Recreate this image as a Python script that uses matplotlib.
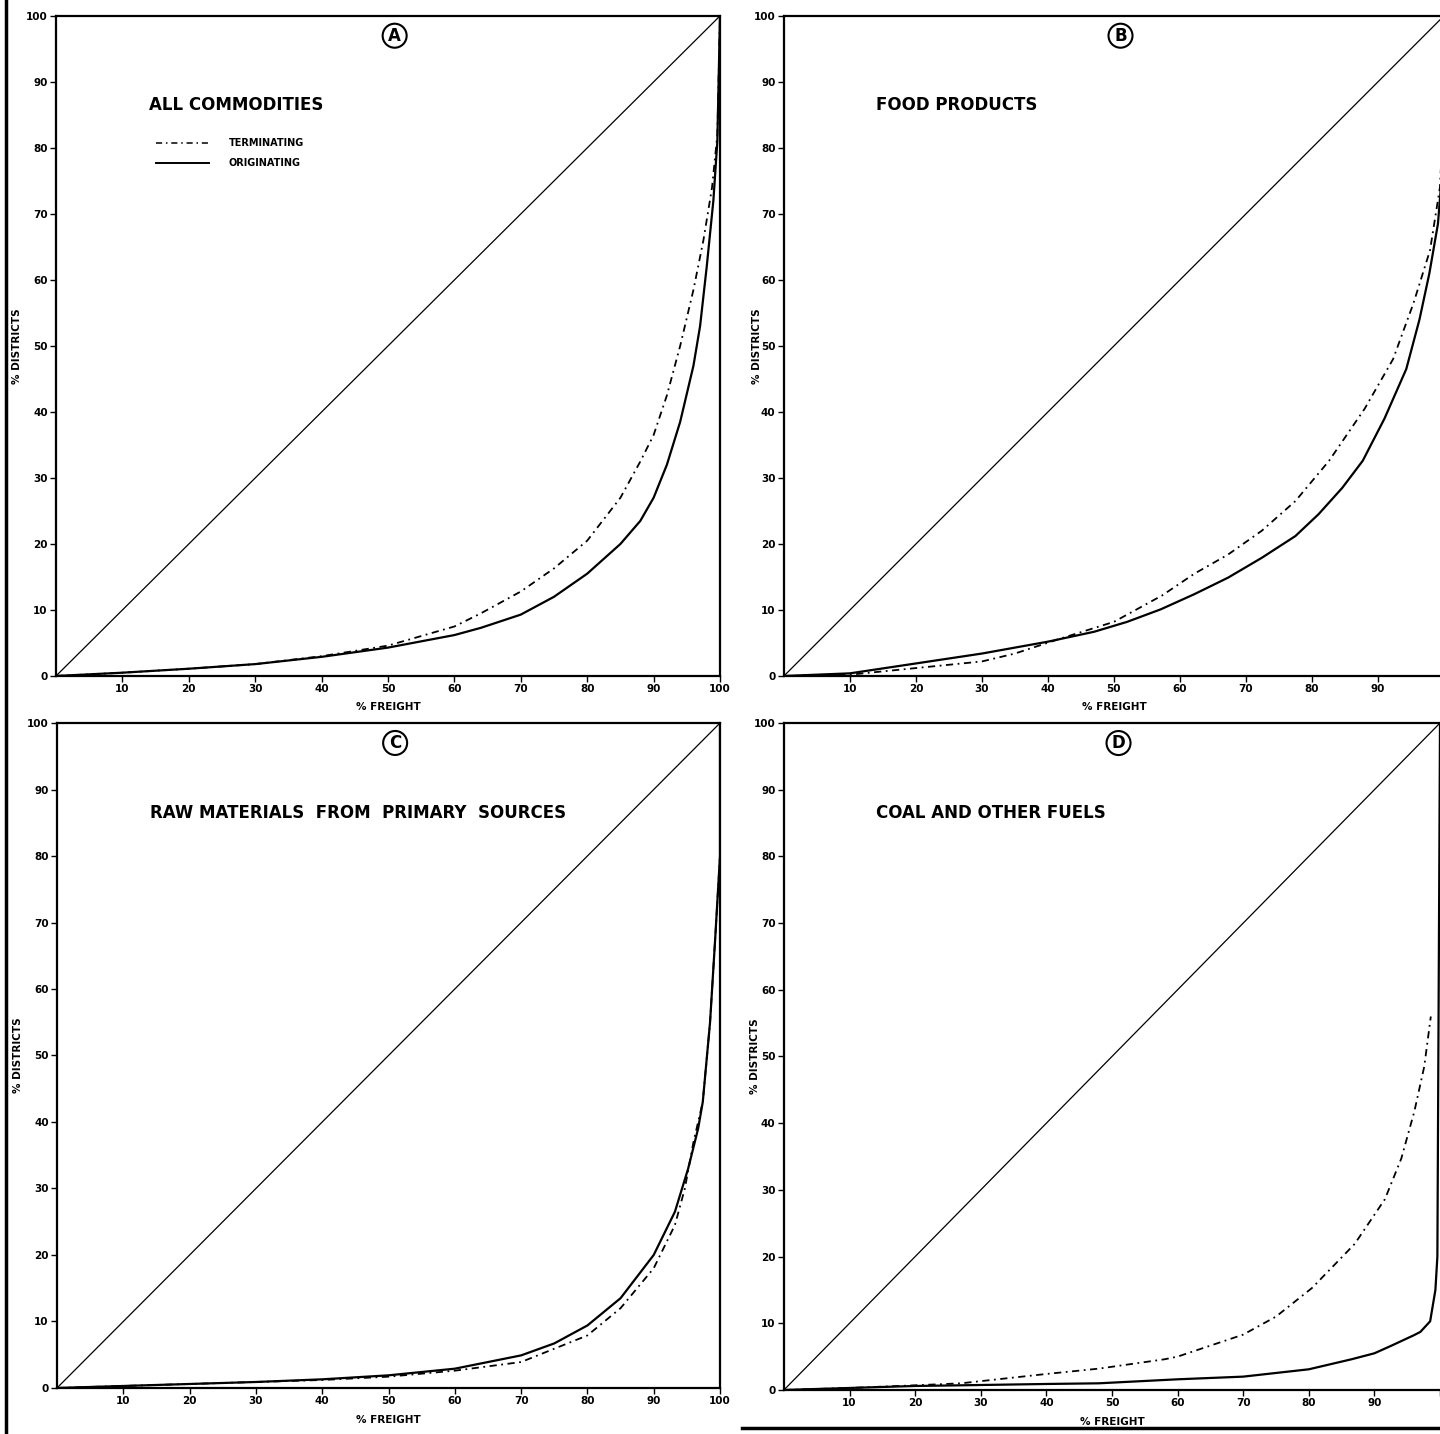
import matplotlib.pyplot as plt
from matplotlib.lines import Line2D

# ---------- data ----------
ticks_y = [0, 10, 20, 30, 40, 50, 60, 70, 80, 90, 100]
ticks_x = [10, 20, 30, 40, 50, 60, 70, 80, 90, 100]

# (A) all commodities
a_orig_x = [0, 10, 20, 30, 40, 50, 60, 64, 70, 75, 80, 85, 88, 90, 92, 94, 96, 97, 98, 99, 99.6, 100]
a_orig_y = [0, 0.5, 1.1, 1.8, 2.9, 4.3, 6.2, 7.3, 9.3, 12, 15.5, 20, 23.5, 27, 32, 38.5, 47, 53, 62, 72, 81, 100]
a_term_x = [0, 10, 20, 30, 40, 50, 60, 64, 70, 75, 80, 85, 88, 90, 92, 94, 96, 97.5, 98.8, 99.6, 100]
a_term_y = [0, 0.5, 1.1, 1.8, 3.0, 4.6, 7.5, 9.5, 12.8, 16.3, 20.5, 27, 32.5, 36.5, 42.5, 50, 58.5, 66, 74, 82, 100]

# (B) food products
b_orig_x = [0, 10, 20, 30, 40, 47, 52, 57.1, 62.2, 67.3, 72.4, 77.5, 81, 84.6, 87.7, 91, 94.3, 96.3, 97.8, 99.1, 99.7, 100]
b_orig_y = [0, 0.4, 1.9, 3.4, 5.2, 6.7, 8.2, 10.1, 12.4, 14.9, 17.9, 21.2, 24.5, 28.5, 32.6, 39, 46.5, 54, 61, 68.5, 76, 100]
b_term_x = [0, 10, 20, 30, 35, 42, 50, 57.3, 62.2, 67.3, 72.4, 77.5, 82.6, 88, 92.3, 95.4, 97.9, 99.4, 99.8, 100]
b_term_y = [0, 0.2, 1.2, 2.2, 3.4, 5.7, 8.2, 12.2, 15.5, 18.4, 22, 26.5, 32.6, 40.5, 48, 56.5, 64.5, 74, 82, 100]

# (C) raw materials from primary sources
c_orig_x = [0, 10, 20, 30, 40, 50, 60, 70, 75, 80, 85, 90, 93.2, 95.2, 96.7, 97.4, 98.5, 99.3, 100, 100]
c_orig_y = [0, 0.3, 0.6, 0.9, 1.3, 1.9, 2.9, 4.9, 6.7, 9.4, 13.5, 20, 26.5, 33, 39, 43, 55, 68, 80, 100]
c_term_x = [0, 10, 20, 30, 40, 50, 60, 70, 80, 85, 90, 93.2, 94.7, 96, 97.4, 98.5, 99.3, 100, 100]
c_term_y = [0, 0.3, 0.6, 0.9, 1.2, 1.7, 2.6, 3.9, 7.9, 12, 18, 24.5, 30, 37, 43, 55, 68, 80, 100]

# (D) coal and other fuels
d_orig_x = [0, 10, 20, 27, 40, 48, 60, 70, 80, 86.5, 90, 92.5, 96, 97, 98.5, 99.3, 99.6, 100]
d_orig_y = [0, 0.3, 0.6, 0.7, 0.9, 1.0, 1.6, 2.0, 3.1, 4.6, 5.5, 6.6, 8.2, 8.7, 10.3, 15, 20, 100]
d_term_x = [0, 10, 20, 27, 40, 48, 58, 60, 70, 75, 80.5, 87, 91.6, 94.1, 96.1, 97.6, 98.6]
d_term_y = [0, 0.3, 0.7, 1.0, 2.4, 3.2, 4.6, 5.0, 8.3, 11.0, 15.3, 21.9, 28.6, 34.7, 41.8, 48.5, 56]

panels = [
    ("A", "ALL COMMODITIES", [0.0389, 0.5286, 0.4611, 0.4603], a_orig_x, a_orig_y, a_term_x, a_term_y, -0.051),
    ("B", "FOOD PRODUCTS", [0.5444, 0.5286, 0.4583, 0.4603], b_orig_x, b_orig_y, b_term_x, b_term_y, -0.033),
    ("C", "RAW MATERIALS  FROM  PRIMARY  SOURCES", [0.0396, 0.0321, 0.4604, 0.4637], c_orig_x, c_orig_y, c_term_x, c_term_y, -0.051),
    ("D", "COAL AND OTHER FUELS", [0.5444, 0.0307, 0.4556, 0.4651], d_orig_x, d_orig_y, d_term_x, d_term_y, -0.036),
]

dashdot = (4, 2.5, 1, 2.5)

fig = plt.figure(figsize=(14.4, 14.34), dpi=100)

for letter, title, rect, ox, oy, tx, ty, ylab_x in panels:
    ax = fig.add_axes(rect)
    ax.set_xlim(0, 100)
    ax.set_ylim(0, 100)
    ax.plot([0, 100], [0, 100], color="black", lw=0.9)
    ax.plot(ox, oy, color="black", lw=1.6, solid_capstyle="round")
    ax.plot(tx, ty, color="black", lw=1.3, dashes=dashdot)

    # the right-hand panels run off the edge of the scan
    cut = letter in ("B", "D")
    ax.set_xticks(ticks_x)
    ax.set_xticklabels([str(t) if not (cut and t == 100) else "" for t in ticks_x])
    ax.set_yticks(ticks_y)
    ax.tick_params(direction="out", length=4, width=1, labelsize=7.5, pad=2)
    for lab in ax.get_xticklabels() + ax.get_yticklabels():
        lab.set_fontweight("bold")
    for s in ax.spines.values():
        s.set_linewidth(1.6)
    if cut:
        ax.spines["right"].set_visible(False)

    ax.set_xlabel("% FREIGHT", fontsize=7.5, fontweight="bold")
    ax.xaxis.set_label_coords(0.5, -0.04)
    ax.set_ylabel("% DISTRICTS", fontsize=7.5, fontweight="bold")
    ax.yaxis.set_label_coords(ylab_x, 0.5)

    ax.text(51, 97, letter, ha="center", va="center", fontsize=12, fontweight="bold",
            bbox=dict(boxstyle="circle,pad=0.18", fc="white", ec="black", lw=1.5))
    ax.text(14, 86.5, title, ha="left", va="center", fontsize=12, fontweight="bold")

    if letter == "A":
        ax.add_line(Line2D([15, 23], [80.8, 80.8], color="black", lw=1.1, dashes=dashdot))
        ax.add_line(Line2D([15, 23], [77.7, 77.7], color="black", lw=1.4))
        ax.text(26, 80.8, "TERMINATING", fontsize=7, fontweight="bold", va="center")
        ax.text(26, 77.7, "ORIGINATING", fontsize=7, fontweight="bold", va="center")

# page border left over from the scan
fig.add_artist(Line2D([0.004, 0.004], [0, 1], color="black", lw=2.5))
fig.add_artist(Line2D([0.515, 1.0], [0.004, 0.004], color="black", lw=2.5))

fig.savefig("out.png", dpi=100)
